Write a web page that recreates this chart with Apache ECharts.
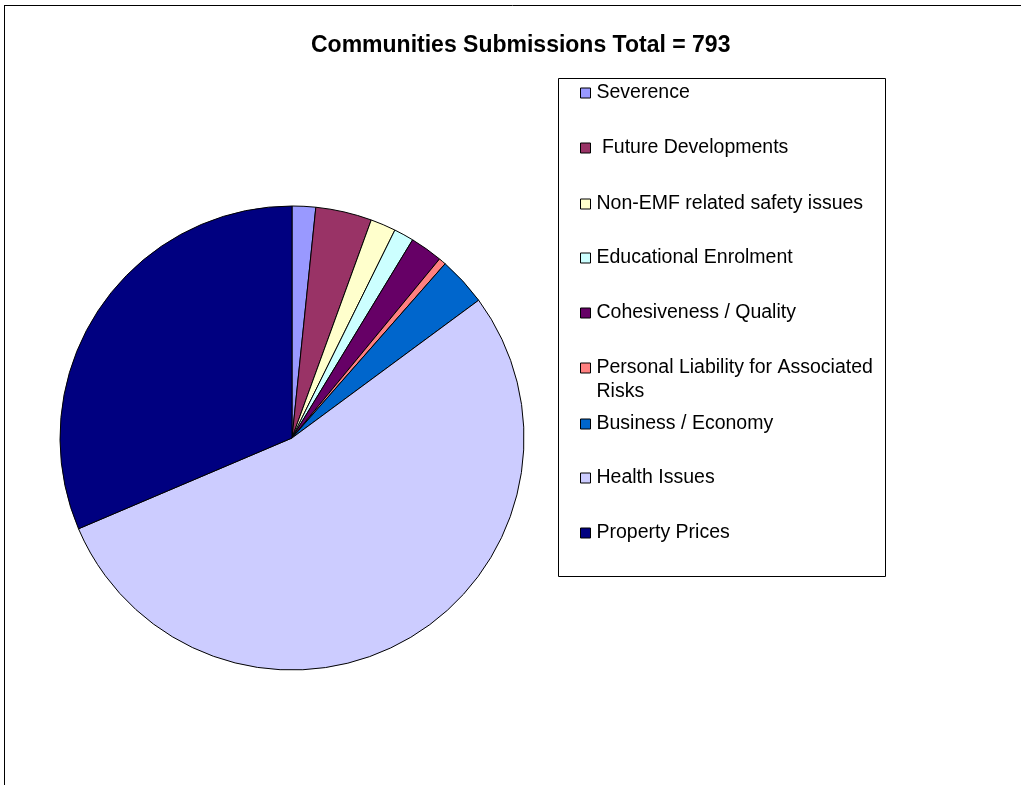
<!DOCTYPE html>
<html>
<head>
<meta charset="utf-8">
<script src="https://cdn.jsdelivr.net/npm/echarts@6/dist/echarts.min.js"></script>
<style>html,body{margin:0;padding:0;background:#fff}#c{width:1021px;height:785px}</style>
</head>
<body>
<div id="c"></div>
<script>
const categories = ['Severence', ' Future Developments', 'Non-EMF related safety issues', 'Educational Enrolment', 'Cohesiveness / Quality', 'Personal Liability for Associated Risks', 'Business / Economy', 'Health Issues', 'Property Prices'];
const values = [13, 31, 14, 11, 18, 4, 27, 426, 249];
const colors = ['#9999FF', '#993366', '#FFFFCC', '#CCFFFF', '#660066', '#FF8080', '#0066CC', '#CCCCFF', '#000080'];
const titleText = 'Communities Submissions Total = 793';

const chart = echarts.init(document.getElementById('c'));
const legendCenters = [93, 148, 204, 258, 313, 368, 424, 478, 533];
const LH = 24;
const legends = categories.map((name, i) => {
  const wrapped = name === 'Personal Liability for Associated Risks';
  const h = wrapped ? 3 * LH : LH;
  return {
    data: [name],
    orient: 'vertical',
    left: 580,
    top: legendCenters[i] - h / 2,
    padding: 0,
    itemWidth: 10,
    itemHeight: 10,
    icon: 'rect',
    selectedMode: false,
    itemStyle: { borderColor: '#000', borderWidth: 1 },
    formatter: wrapped ? () => '\nPersonal Liability for Associated\nRisks' : undefined,
    textStyle: { fontFamily: 'Liberation Sans', fontSize: 19.5, color: '#000', lineHeight: LH, padding: [0, 0, 0, 1] }
  };
});

chart.setOption({
  animation: false,
  backgroundColor: '#fff',
  title: {
    text: titleText,
    left: 311, top: 34, padding: 0,
    textStyle: { fontFamily: 'Liberation Sans', fontSize: 23, fontWeight: 'bold', color: '#000' }
  },
  color: colors,
  legend: legends,
  graphic: [
    { type: 'line', shape: { x1: 4.5, y1: 5, x2: 4.5, y2: 785 }, style: { stroke: '#000', lineWidth: 1 } },
    { type: 'line', shape: { x1: 4, y1: 5.5, x2: 1021, y2: 5.5 }, style: { stroke: '#000', lineWidth: 1 } },
    { type: 'rect', shape: { x: 558.5, y: 78.5, width: 327, height: 498 }, style: { fill: 'none', stroke: '#000', lineWidth: 1 }, z: -1 }
  ],
  series: [{
    type: 'pie',
    center: [292, 438],
    radius: 232,
    startAngle: 90,
    clockwise: true,
    label: { show: false },
    labelLine: { show: false },
    emphasis: { disabled: true },
    itemStyle: { borderColor: '#000', borderWidth: 1 },
    data: categories.map((n, i) => ({ name: n, value: values[i] }))
  }]
});
</script>
</body>
</html>
